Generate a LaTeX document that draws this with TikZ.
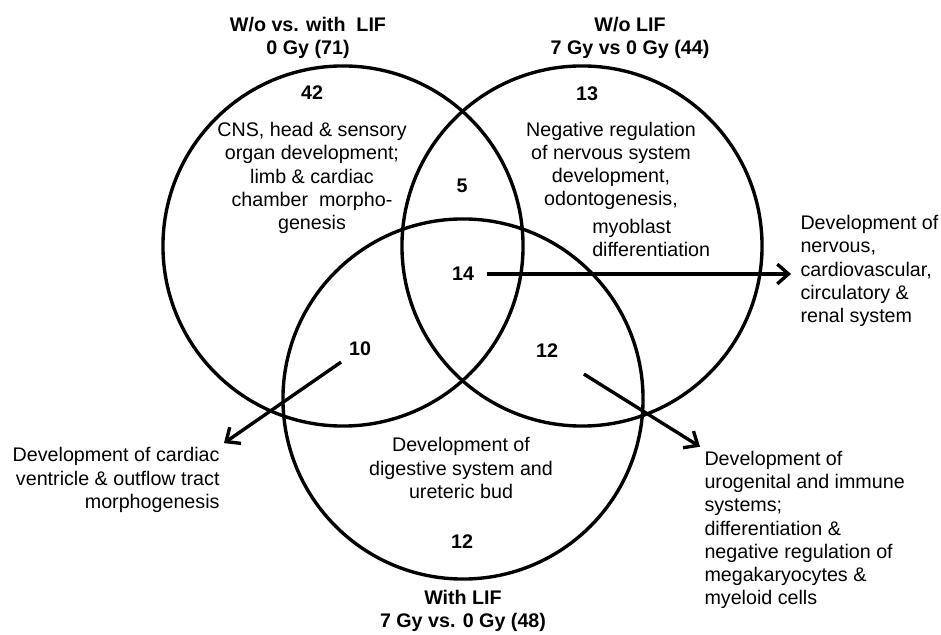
\documentclass[tikz,border=0pt]{standalone}
\usepackage{fontspec}
\setmainfont{Liberation Sans}
\usetikzlibrary{arrows.meta,positioning}

\begin{document}
\begin{tikzpicture}[
  x=0.025cm,
  y=-0.025cm,
  font=\fontsize{14}{16.5}\selectfont,
  venn/.style={
    draw,
    circle,
    line width=2.4pt,
    minimum size=9cm,
    inner sep=0pt
  },
  title/.style={align=center, font=\fontsize{14}{16.5}\selectfont\bfseries},
  count/.style={font=\fontsize{14}{16.5}\selectfont\bfseries, inner sep=3pt},
  term/.style={align=center, inner sep=0pt},
  note/.style={inner sep=3pt},
  pointer/.style={-{Straight Barb[length=8pt,width=14pt]}, line width=2.4pt, shorten <=6pt}
]
\useasboundingbox (0,0) rectangle (941,635);

% the three sets
\node[venn] (noLIFzero) at (343,246) {};
\node[venn] (noLIFseven) at (582,246) {};
\node[venn] (withLIFseven) at (463,399) {};

% set titles
\node[title] (titleA) at (308,38) {W/o vs. with\ \ LIF\\0 Gy (71)};
\node[title] (titleB) at (630,38) {W/o LIF\\7 Gy vs 0 Gy (44)};
\node[title] (titleC) at (463,611) {With LIF\\7 Gy vs. 0 Gy (48)};

% counts per region
\node[count] (nA) at (312,93) {42};
\node[count] (nB) at (587,94) {13};
\node[count] (nAB) at (462,186) {5};
\node[count] (nABC) at (463,274) {14};
\node[count] (nAC) at (360,349) {10};
\node[count] (nBC) at (547,351) {12};
\node[count] (nC) at (462,542) {12};

% terms inside the sets
\node[term] (termA) at (312,178) {CNS, head \& sensory\\organ development;\\limb \& cardiac\\chamber\ \ morpho-\\genesis};
\node[term] (termB) at (611,166) {Negative regulation\\of nervous system\\development,\\odontogenesis,};
\node[term, align=left, anchor=west] (termBmore) at (592,238) {myoblast\\differentiation};
\node[term] (termC) at (461,468) {Development of\\digestive system and\\ureteric bud};

% terms outside
\node[note, align=left, anchor=west] (devNerv) at (796,271) {Development of\\nervous,\\cardiovascular,\\circulatory \&\\renal system};
\node[note, align=right, anchor=east] (devCard) at (224,480) {Development of cardiac\\ventricle \& outflow tract\\morphogenesis};
\node[note, align=left, anchor=west] (devUro) at (700,530) {Development of\\urogenital and immune\\systems;\\differentiation \&\\negative regulation of\\megakaryocytes \&\\myeloid cells};

\draw[pointer, shorten >=3.5pt] (nABC) -- (devNerv.west |- nABC);
\draw[pointer, shorten <=3pt] (nAC) -- (devCard.north east);
\draw[pointer, shorten <=18pt] (nBC) -- (devUro.north west);

\end{tikzpicture}
\end{document}
